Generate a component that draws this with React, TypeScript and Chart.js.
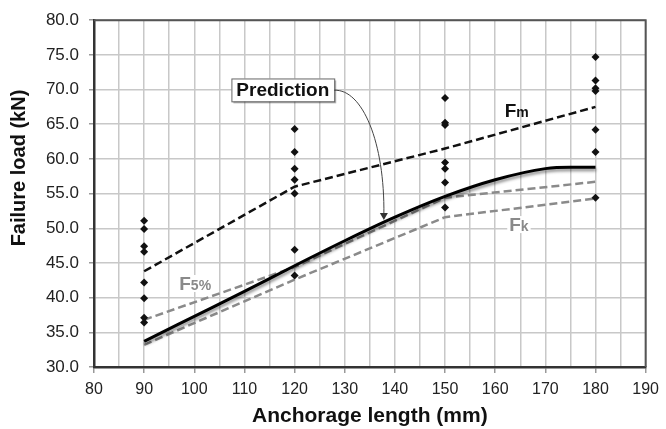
import React, { useEffect, useRef } from 'react';
import { Chart, registerables } from 'chart.js';

Chart.register(...registerables);

// ---- Data ----
const testLengths = [90, 120, 150, 180];
const tests90 = [51.1, 49.9, 47.4, 46.6, 42.2, 39.9, 37.1, 36.4];
const tests120 = [64.3, 61.0, 58.6, 57.0, 55.0, 46.9, 43.2];
const tests150 = [68.8, 65.2, 64.9, 59.5, 58.6, 56.6, 53.0];
const tests180 = [74.7, 71.3, 70.2, 69.8, 64.2, 61.0, 54.4];

const fmValues = [43.8, 56.0, 61.5, 67.5];
const f5Values = [36.8, 44.4, 54.4, 56.7];
const fkValues = [33.2, 42.6, 51.6, 54.3];

const predictionLengths = [90, 100, 110, 120, 130, 140, 150, 160, 170, 175, 180];
const predictionValues = [33.7, 37.3, 40.9, 44.6, 48.2, 51.6, 54.6, 57.0, 58.6, 58.8, 58.8];

const xTitle = 'Anchorage length (mm)';
const yTitle = 'Failure load (kN)';
const predictionLabel = 'Prediction';

// annotation anchor points in data units
const predBox = { x0: 107.4, x1: 127.9, y0: 71.6, y1: 68.3 };
const arrowPath = { sx: 127.9, sy: 69.9, c1x: 133.5, c1y: 70.1, c2x: 138.0, c2y: 62.4, ex: 137.8, ey: 51.2 };
const fmLabelPos = { x: 161.9, y: 66.0 };
const f5LabelPos = { x: 97.0, y: 41.1 };
const fkLabelPos = { x: 162.8, y: 49.6 };

const FONT = "'Liberation Sans', Arial, sans-serif";

const pts = (xs: number[], ys: number[]) => ys.map((y, i) => ({ x: xs[i], y }));
const testPoints = [
  ...tests90.map((y) => ({ x: testLengths[0], y })),
  ...tests120.map((y) => ({ x: testLengths[1], y })),
  ...tests150.map((y) => ({ x: testLengths[2], y })),
  ...tests180.map((y) => ({ x: testLengths[3], y })),
];

const shadowPlugin = {
  id: 'predShadow',
  beforeDatasetDraw(chart: any, args: any) {
    if (args.index === 1) {
      const ctx = chart.ctx;
      ctx.save();
      ctx.shadowColor = 'rgba(0,0,0,0.45)';
      ctx.shadowOffsetX = 0.5;
      ctx.shadowOffsetY = 2.5;
      ctx.shadowBlur = 3;
    }
  },
  afterDatasetDraw(chart: any, args: any) {
    if (args.index === 1) chart.ctx.restore();
  },
};

const framePlugin = {
  id: 'frame',
  afterDraw(chart: any) {
    const { ctx, chartArea: a, scales } = chart;
    const xs = scales.x;
    const ys = scales.y;
    const px = (v: number) => xs.getPixelForValue(v);
    const py = (v: number) => ys.getPixelForValue(v);
    ctx.save();
    // top & right frame
    ctx.strokeStyle = '#555';
    ctx.lineWidth = 2;
    ctx.beginPath();
    ctx.moveTo(a.left, a.top);
    ctx.lineTo(a.right, a.top);
    ctx.lineTo(a.right, a.bottom);
    ctx.stroke();

    // labels on lines
    const drawSubLabel = (pos: any, main: string, sub: string, color: string, bg: boolean) => {
      const x = px(pos.x);
      const y = py(pos.y);
      ctx.font = `bold 19px ${FONT}`;
      const w1 = ctx.measureText(main).width;
      ctx.font = `bold 14px ${FONT}`;
      const w2 = ctx.measureText(sub).width;
      if (bg) {
        ctx.fillStyle = '#fff';
        ctx.fillRect(x - 2, y - 15, w1 + w2 + 4, 17);
      }
      ctx.fillStyle = color;
      ctx.textBaseline = 'alphabetic';
      ctx.textAlign = 'left';
      ctx.font = `bold 19px ${FONT}`;
      ctx.fillText(main, x, y);
      ctx.font = `bold 14px ${FONT}`;
      ctx.fillText(sub, x + w1, y);
    };
    drawSubLabel(fmLabelPos, 'F', 'm', '#111', false);
    drawSubLabel(f5LabelPos, 'F', '5%', '#8a8a8a', true);
    drawSubLabel(fkLabelPos, 'F', 'k', '#8a8a8a', true);

    // prediction box
    const bx0 = px(predBox.x0), bx1 = px(predBox.x1), by0 = py(predBox.y0), by1 = py(predBox.y1);
    ctx.fillStyle = 'rgba(0,0,0,0.3)';
    ctx.fillRect(bx0 + 2, by0 + 2, bx1 - bx0, by1 - by0);
    ctx.fillStyle = '#fff';
    ctx.fillRect(bx0, by0, bx1 - bx0, by1 - by0);
    ctx.strokeStyle = '#666';
    ctx.lineWidth = 1;
    ctx.strokeRect(bx0 + 0.5, by0 + 0.5, bx1 - bx0, by1 - by0);
    ctx.fillStyle = '#111';
    ctx.font = `bold 19px ${FONT}`;
    ctx.textAlign = 'center';
    ctx.textBaseline = 'middle';
    ctx.fillText(predictionLabel, (bx0 + bx1) / 2, (by0 + by1) / 2 + 1);

    // arrow
    const sx = px(arrowPath.sx), sy = py(arrowPath.sy);
    const ex = px(arrowPath.ex), ey = py(arrowPath.ey);
    const c1x = px(arrowPath.c1x), c1y = py(arrowPath.c1y);
    const c2x = px(arrowPath.c2x), c2y = py(arrowPath.c2y);
    ctx.strokeStyle = '#444';
    ctx.lineWidth = 1;
    ctx.beginPath();
    ctx.moveTo(sx, sy);
    ctx.bezierCurveTo(c1x, c1y, c2x, c2y, ex, ey - 5);
    ctx.stroke();
    ctx.fillStyle = '#333';
    ctx.beginPath();
    ctx.moveTo(ex, ey);
    ctx.lineTo(ex - 4, ey - 7);
    ctx.lineTo(ex + 4, ey - 7);
    ctx.closePath();
    ctx.fill();

    // axis titles
    ctx.fillStyle = '#111';
    ctx.font = `bold 21px ${FONT}`;
    ctx.textAlign = 'center';
    ctx.textBaseline = 'alphabetic';
    ctx.fillText(xTitle, (a.left + a.right) / 2, 422);
    ctx.save();
    ctx.translate(25, 168);
    ctx.rotate(-Math.PI / 2);
    ctx.font = `bold 20px ${FONT}`;
    ctx.fillText(yTitle, 0, 0);
    ctx.restore();
    ctx.restore();
  },
};

export default function App() {
  const ref = useRef<HTMLCanvasElement | null>(null);
  useEffect(() => {
    if (!ref.current) return;
    const chart = new Chart(ref.current, {
      type: 'scatter',
      data: {
        datasets: [
          {
            label: 'Tests',
            data: testPoints,
            showLine: false,
            pointStyle: 'rectRot',
            pointRadius: 4,
            backgroundColor: '#111',
            borderColor: '#111',
            borderWidth: 0,
            order: 0,
          },
          {
            label: 'Prediction',
            data: pts(predictionLengths, predictionValues),
            showLine: true,
            borderColor: '#000',
            borderWidth: 3,
            pointRadius: 0,
            cubicInterpolationMode: 'monotone',
            order: 1,
          },
          {
            label: 'Fm',
            data: pts(testLengths, fmValues),
            showLine: true,
            borderColor: '#111',
            borderWidth: 2.5,
            borderDash: [8, 4],
            pointRadius: 0,
            order: 2,
          },
          {
            label: 'F5%',
            data: pts(testLengths, f5Values),
            showLine: true,
            borderColor: '#8a8a8a',
            borderWidth: 2.5,
            borderDash: [8, 4],
            pointRadius: 0,
            order: 3,
          },
          {
            label: 'Fk',
            data: pts(testLengths, fkValues),
            showLine: true,
            borderColor: '#8a8a8a',
            borderWidth: 2.5,
            borderDash: [8, 4],
            pointRadius: 0,
            order: 4,
          },
        ] as any,
      },
      options: {
        animation: false,
        responsive: false,
        devicePixelRatio: 1,
        layout: { padding: { top: 17, right: 14, left: 0, bottom: 0 } },
        plugins: { legend: { display: false }, tooltip: { enabled: false } },
        scales: {
          x: {
            type: 'linear',
            min: 80,
            max: 190,
            ticks: {
              stepSize: 5,
              autoSkip: false,
              maxRotation: 0,
              padding: 7,
              color: '#222',
              font: { family: FONT, size: 16 },
              callback: (v: any) => (Number(v) % 10 === 0 ? String(v) : ''),
            },
            grid: {
              color: '#c8c8c8',
              lineWidth: 1.5,
              tickLength: 6,
              tickColor: (c: any) => (c.tick && c.tick.value % 10 === 0 ? '#999' : 'rgba(0,0,0,0)'),
            },
            border: { color: '#333', width: 2.5 },
            afterFit: (s: any) => {
              s.height = 62;
            },
          },
          y: {
            type: 'linear',
            min: 30,
            max: 80,
            ticks: {
              stepSize: 5,
              padding: 10,
              color: '#222',
              font: { family: FONT, size: 17 },
              callback: (v: any) => Number(v).toFixed(1),
            },
            grid: { color: '#c8c8c8', lineWidth: 1.5, tickLength: 5, tickColor: '#999' },
            border: { color: '#333', width: 2.5 },
            afterFit: (s: any) => {
              s.width = 94;
            },
          },
        },
      } as any,
      plugins: [shadowPlugin, framePlugin],
    });
    return () => chart.destroy();
  }, []);
  return (
    <div style={{ position: 'absolute', left: 0, top: 0, width: 666, height: 429, background: '#fff' }}>
      <canvas ref={ref} width={666} height={429} />
    </div>
  );
}
